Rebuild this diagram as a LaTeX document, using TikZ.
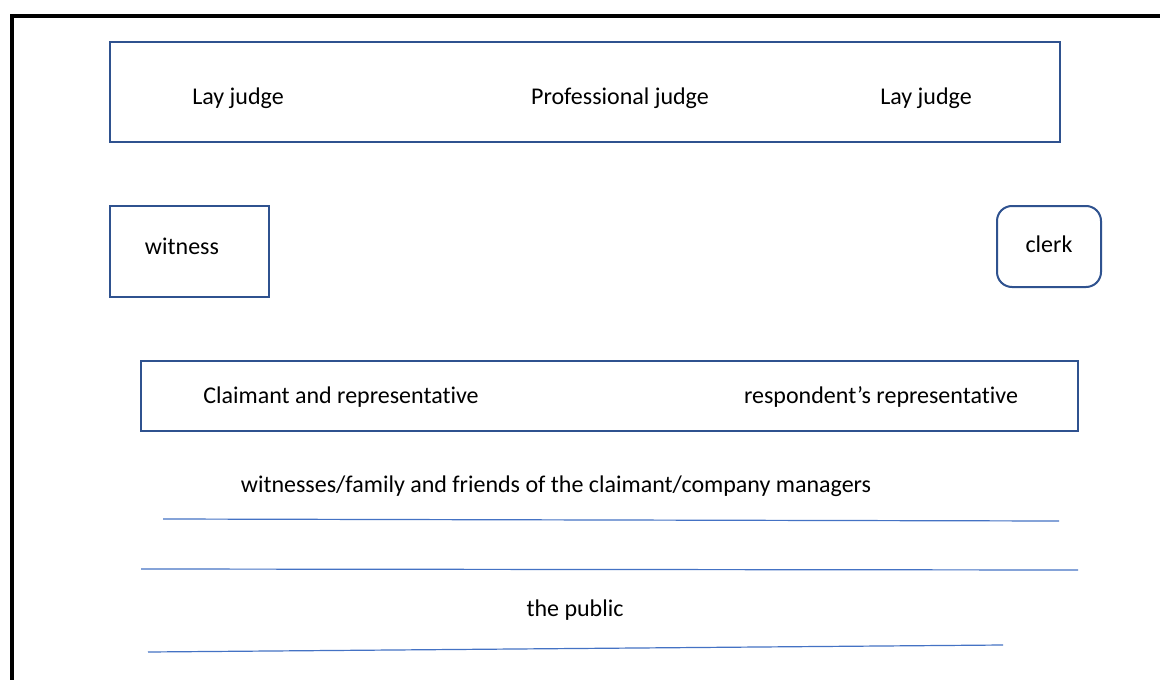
\documentclass[tikz,border=0pt]{standalone}
\usepackage{fontspec}
\setmainfont[Ligatures=NoCommon]{Carlito}
\usepackage{tikz}
\definecolor{boxblue}{RGB}{47, 82, 143}
\definecolor{lineblue}{RGB}{68, 114, 196}

\tikzset{
    panel/.style={draw=boxblue, line width=2pt, inner sep=0pt},
    label/.style={font=\fontsize{24}{28}\selectfont, text=black, anchor=center},
    rule/.style={lineblue, line width=1.2pt}
}

\begin{document}
\begin{tikzpicture}[x=1pt, y=-1pt]
            \useasboundingbox                                             (0, 0) rectangle (1160, 680);
            \fill[white]                                                  (0, 0) rectangle (1160, 680);
            \draw[black, line width=3.5pt]                                (12, 700) -- (12, 16) -- (1180, 16);
            % bench
            \node[panel, minimum width=950pt, minimum height=100pt] (bench)   at ( 585, 92) {};
            \node[label] (layleft)  at ( 238, 98) {Lay judge};
            \node[label] (prof)     at ( 620, 98) {Professional judge};
            \node[label] (layright) at ( 926, 98) {Lay judge};
            % witness and clerk
            \node[panel, minimum width=159pt, minimum height=91pt] (witnessbox) at (189.5, 251.5) {};
            \node[label] (witness)  at ( 182, 246) {witness};
            \node[panel, rounded corners=15pt, minimum width=104pt, minimum height=81pt] (clerkbox) at (1049, 246.5) {};
            \node[label] (clerk)    at (1049, 244) {clerk};
            % parties
            \node[panel, minimum width=937pt, minimum height=70pt] (parties) at (609.5, 396) {};
            \node[label] (claimant) at ( 341, 397) {Claimant and representative};
            \node[label] (respond)  at ( 881, 397) {respondent’s representative};
            % seating rows
            \node[label] (family)   at ( 556, 486) {witnesses/family and friends of the claimant/company managers};
            \node[label] (public)   at ( 575, 610) {the public};
            \coordinate (rowAw) at ( 163, 519);  \coordinate (rowAe) at (1059, 521);
            \coordinate (rowBw) at ( 141, 569);  \coordinate (rowBe) at (1078, 570);
            \coordinate (rowCw) at ( 148, 652);  \coordinate (rowCe) at (1003, 645);
            \draw[rule] (rowAw) -- (rowAe);
            \draw[rule] (rowBw) -- (rowBe);
            \draw[rule] (rowCw) -- (rowCe);
        \end{tikzpicture}
\end{document}
